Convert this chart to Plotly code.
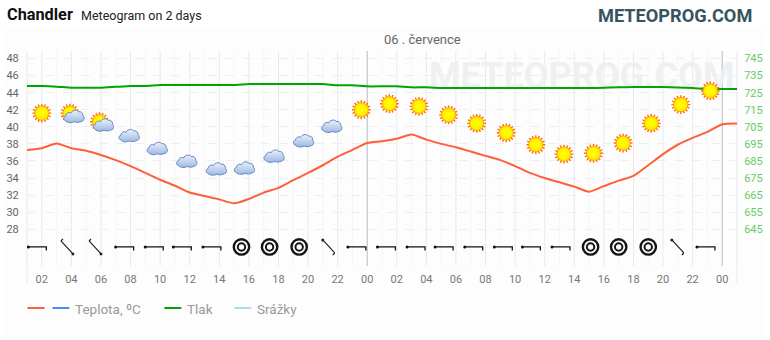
import base64
import math
import plotly.graph_objects as go

hours = list(range(1, 50))
temperature = [37.3, 37.5, 38.05, 37.5, 37.2, 36.7, 36.1, 35.4, 34.6, 33.8, 33.1, 32.3, 31.9, 31.5, 31.05, 31.55,
               32.3, 32.85, 33.75, 34.6, 35.5, 36.5, 37.3, 38.1, 38.3, 38.6, 39.1, 38.5, 38.0, 37.6, 37.1, 36.6,
               36.1, 35.4, 34.6, 34.0, 33.5, 33.0, 32.4, 33.05, 33.7, 34.25, 35.5, 36.8, 37.9, 38.7, 39.4, 40.3, 40.4]
pressure = [728.9, 728.9, 728.5, 727.9, 727.9, 727.9, 728.4, 728.9, 728.9, 729.5, 729.5, 729.5, 729.5, 729.5, 729.5, 730.1,
            730.1, 730.1, 730.1, 730.1, 730.1, 729.3, 729.3, 728.7, 728.7, 728.7, 728.1, 728.1, 727.7, 727.7, 727.7, 727.7,
            727.7, 727.7, 727.7, 727.7, 727.7, 727.7, 727.7, 727.9, 728.1, 728.3, 728.3, 728.3, 728.0, 727.7, 727.1, 727.1, 727.1]
tick_hours = list(range(2, 50, 2))
tick_labels = ["02", "04", "06", "08", "10", "12", "14", "16", "18", "20", "22", "00"] * 2
left_ticks = [28, 30, 32, 34, 36, 38, 40, 42, 44, 46, 48]
right_ticks = [645, 655, 665, 675, 685, 695, 705, 715, 725, 735, 745]

icon_hours = [2.0, 3.9, 5.9, 7.9, 9.8, 11.8, 13.8, 15.7, 17.7, 19.7, 21.6, 23.6,
              25.5, 27.5, 29.5, 31.4, 33.4, 35.4, 37.3, 39.3, 41.3, 43.2, 45.2, 47.2]
icon_levels = [41.6, 41.6, 40.6, 39.0, 37.5, 36.0, 35.1, 35.2, 36.6, 38.4, 40.1, 42.0,
               42.7, 42.4, 41.4, 40.4, 39.3, 37.9, 36.8, 36.9, 38.1, 40.4, 42.6, 44.2]
icon_kinds = ["sun", "mix", "mix", "cloud", "cloud", "cloud", "cloud", "cloud", "cloud", "cloud", "cloud", "sun",
              "sun", "sun", "sun", "sun", "sun", "sun", "sun", "sun", "sun", "sun", "sun", "sun"]
wind_hours = [1.7, 3.7, 5.6, 7.6, 9.6, 11.5, 13.5, 15.5, 17.4, 19.4, 21.4, 23.3,
              25.3, 27.3, 29.2, 31.2, 33.2, 35.1, 37.1, 39.1, 41.0, 43.0, 45.0, 46.9]
wind_kinds = ["W", "D", "D", "W", "W", "W", "W", "C", "C", "C", "U", "W",
              "W", "W", "W", "W", "W", "W", "W", "C", "C", "C", "U", "W"]
wind_level = 25.93
watermark_hour, watermark_level = 38.5, 45.6

W, H = 770, 340
L, R, T, B = 26.5, 737.3, 51, 266


def px(x):
    return (x - L) / (R - L)


def py(y):
    return (B - y) / (B - T)


def uri(svg):
    return "data:image/svg+xml;base64," + base64.b64encode(svg.encode()).decode()


def rays(cx, cy, r0, r1, n=16):
    parts = []
    for i in range(n):
        a = 2 * math.pi * i / n
        parts.append(f'<line x1="{cx + r0 * math.cos(a):.2f}" y1="{cy + r0 * math.sin(a):.2f}" '
                     f'x2="{cx + r1 * math.cos(a):.2f}" y2="{cy + r1 * math.sin(a):.2f}" '
                     f'stroke="#ff6a00" stroke-width="1.4"/>')
    return "".join(parts)


GRAD = ('<defs><radialGradient id="s"><stop offset="0" stop-color="#ffff00"/><stop offset="0.75" stop-color="#fff200"/>'
        '<stop offset="1" stop-color="#ffc000"/></radialGradient>'
        '<linearGradient id="c" x1="0" y1="0" x2="0" y2="1"><stop offset="0" stop-color="#eaf0fa"/>'
        '<stop offset="1" stop-color="#9db8e4"/></linearGradient></defs>')
CLOUD = ('<path d="M2.5 12.5 C0.5 12 0 8.5 3 7.5 C3 5 6 3.5 8 5 C9 2 13.5 1 15.5 3.5 C18 3 20.5 5 20 7.5 '
         'C22 9 21.5 12.5 19 13 C16 14.5 13.5 14.5 11.5 13.5 C9 15 5 15 2.5 12.5 Z" '
         'fill="url(#c)" stroke="#5f86c6" stroke-width="1"/>')
SUN = rays(10, 10, 6.5, 9.4) + '<circle cx="10" cy="10" r="7.2" fill="url(#s)" stroke="#ffa000" stroke-width="0.7"/>'

svgs = {
    "sun": f'<svg xmlns="http://www.w3.org/2000/svg" width="20" height="20" viewBox="0 0 20 20">{GRAD}{SUN}</svg>',
    "cloud": f'<svg xmlns="http://www.w3.org/2000/svg" width="22" height="16" viewBox="0 0 22 16">{GRAD}{CLOUD}</svg>',
    "mix": f'<svg xmlns="http://www.w3.org/2000/svg" width="30" height="30" viewBox="0 0 30 30">{GRAD}'
           f'<g transform="translate(5 5)">{SUN}</g><g transform="translate(8 10)">{CLOUD}</g></svg>',
    "W": '<svg xmlns="http://www.w3.org/2000/svg" width="24" height="24" viewBox="-12 -12 24 24">'
         '<path d="M-9 0 H9 V3.5" fill="none" stroke="#111" stroke-width="1.3"/><circle cx="-9" cy="0" r="1.5" fill="#111"/></svg>',
    "D": '<svg xmlns="http://www.w3.org/2000/svg" width="24" height="24" viewBox="-12 -12 24 24">'
         '<path d="M-6 -6 L6 7 M-6 -6 L-4 -8" fill="none" stroke="#222" stroke-width="1.2"/><circle cx="6" cy="7" r="1.5" fill="#222"/></svg>',
    "U": '<svg xmlns="http://www.w3.org/2000/svg" width="24" height="24" viewBox="-12 -12 24 24">'
         '<path d="M-6 -7 L6 6 M6 6 L4 8" fill="none" stroke="#222" stroke-width="1.2"/><circle cx="-6" cy="-7" r="1.5" fill="#222"/></svg>',
    "C": '<svg xmlns="http://www.w3.org/2000/svg" width="24" height="24" viewBox="-12 -12 24 24">'
         '<circle r="7.7" fill="none" stroke="#151515" stroke-width="2.4"/><circle r="3.7" fill="none" stroke="#151515" stroke-width="2"/></svg>',
}
sizes = {"sun": (20, 20), "cloud": (22, 16), "mix": (30, 30), "W": (24, 24), "D": (24, 24), "U": (24, 24), "C": (24, 24)}
x_unit = (R - L) / 48
y_unit = 8.54
images = []
for hx, lv, k in list(zip(icon_hours, icon_levels, icon_kinds)) + [(h, wind_level, k) for h, k in zip(wind_hours, wind_kinds)]:
    w, h = sizes[k]
    images.append(dict(source=uri(svgs[k]), xref="x", yref="y", x=hx, y=lv, sizex=w / x_unit, sizey=h / y_unit,
                       xanchor="center", yanchor="middle", sizing="stretch", layer="above"))

fig = go.Figure()
fig.add_trace(go.Scatter(x=[watermark_hour], y=[watermark_level], mode="text", text=["<b>METEOPROG.COM</b>"],
                         textposition="middle center", cliponaxis=False,
                         textfont=dict(size=36, color="#eef0f2", family="Roboto"), hoverinfo="skip", name="watermark"))
fig.add_trace(go.Scatter(x=hours, y=pressure, yaxis="y2", mode="lines", name="Tlak",
                         line=dict(color="#00a500", width=2, shape="spline", smoothing=0.4), hoverinfo="skip"))
fig.add_trace(go.Scatter(x=hours, y=temperature, mode="lines", name="Teplota, ºC",
                         line=dict(color="#ff5f38", width=2, shape="spline", smoothing=0.6), hoverinfo="skip"))

shapes = [dict(type="rect", xref="paper", yref="paper", x0=px(5), x1=px(766), y0=py(336), y1=py(27),
               fillcolor="#fdfdfd", line=dict(width=0), layer="below")]
for hx in hours:
    if hx % 2:
        shapes.append(dict(type="line", xref="x", yref="paper", x0=hx, x1=hx, y0=0, y1=1,
                           line=dict(color="#f6f6f7", width=1), layer="below"))
for hx in tick_hours:
    c = "#b4bcc4" if hx in (24, 48) else "#e6eaef"
    shapes.append(dict(type="line", xref="x", yref="paper", x0=hx, x1=hx, y0=0, y1=1,
                       line=dict(color=c, width=1), layer="below"))
for xe in (L, R):
    shapes.append(dict(type="line", xref="paper", yref="paper", x0=px(xe), x1=px(xe), y0=py(283), y1=1,
                       line=dict(color="#e6eaef", width=1), layer="below"))

# legend keys
for x0, x1, col in [(27, 44, "#ff5f38"), (52, 69, "#4a8cff"), (164, 181, "#00a500"), (234, 251, "#a6e0f2")]:
    shapes.append(dict(type="line", xref="paper", yref="paper", x0=px(x0), x1=px(x1), y0=py(308), y1=py(308),
                       line=dict(color=col, width=2)))


def label(x, y, text, size, color, anchor="left", bold=False, family="Roboto"):
    return dict(xref="paper", yref="paper", x=px(x), y=py(y), text=f"<b>{text}</b>" if bold else text, showarrow=False,
                xanchor=anchor, yanchor="middle", font=dict(size=size, color=color, family=family),
                xshift=0, yshift=0, borderpad=0, borderwidth=0)


annotations = [
    label(6.5, 14.5, "Chandler", 16.3, "#111111", bold=True),
    label(81, 15.5, "Meteogram on 2 days", 12.5, "#222222"),
    label(752, 15, "METEOPROG.COM", 18.2, "#37535f", anchor="right", bold=True),
    label(422.5, 39.5, "06 . července", 13, "#666666", anchor="center"),
    label(75, 308.5, "Teplota, ºC", 13.5, "#999999"),
    label(187, 308.5, "Tlak", 13.5, "#999999"),
    label(257, 308.5, "Srážky", 13.5, "#999999"),
]

fig.update_layout(
    width=W, height=H, autosize=False,
    margin=dict(l=L, r=W - R, t=T, b=H - B, pad=0),
    paper_bgcolor="#ffffff", plot_bgcolor="rgba(0,0,0,0)",
    showlegend=False, shapes=shapes, annotations=annotations, images=images,
    font=dict(family="Roboto"),
    xaxis=dict(range=[1, 49], tickmode="array", tickvals=tick_hours, ticktext=tick_labels, showgrid=False, automargin=False,
               zeroline=False, showline=False, ticks="outside", ticklen=3, tickcolor="rgba(0,0,0,0)",
               tickfont=dict(size=11, color="#777777", family="Roboto")),
    yaxis=dict(range=[23.7, 48.88], tickmode="array", tickvals=left_ticks, showgrid=True, griddash="dash", automargin=False,
               gridcolor="#eeeeee", gridwidth=1, zeroline=False, showline=False, ticks="outside", ticklen=5,
               tickcolor="rgba(0,0,0,0)", tickfont=dict(size=11, color="#666666", family="Roboto")),
    yaxis2=dict(range=[623.5, 749.4], overlaying="y", side="right", tickmode="array", tickvals=right_ticks, automargin=False,
                showgrid=False, zeroline=False, showline=False, ticks="outside", ticklen=4,
                tickcolor="rgba(0,0,0,0)", tickfont=dict(size=11, color="#66cc66", family="Roboto")),
)

fig.write_html("out.html", config=dict(displayModeBar=False),
               post_script="document.body.style.margin='0';")
